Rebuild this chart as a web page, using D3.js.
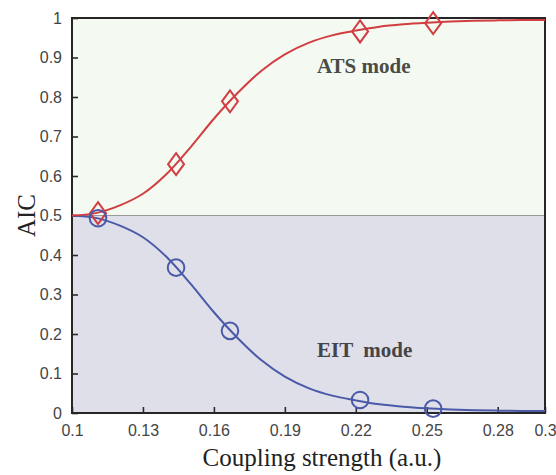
<!DOCTYPE html>
<html>
<head>
<meta charset="utf-8">
<script src="https://cdn.jsdelivr.net/npm/d3@7"></script>
<style>
  body { margin: 0; background: #fff; }
  svg { display: block; }
</style>
</head>
<body>
<div id="chart"></div>
<script>
// fitted curves
const curveX   = [0.10, 0.11, 0.12, 0.13, 0.14, 0.15, 0.16, 0.17, 0.18, 0.19, 0.20,
                  0.21, 0.22, 0.23, 0.24, 0.25, 0.26, 0.27, 0.28, 0.29, 0.30];
const atsCurve = [0.500, 0.506, 0.525, 0.555, 0.605, 0.672, 0.745, 0.810, 0.866, 0.908, 0.937,
                  0.956, 0.968, 0.978, 0.984, 0.988, 0.991, 0.993, 0.994, 0.995, 0.995];
const eitCurve = [0.500, 0.494, 0.475, 0.445, 0.395, 0.328, 0.255, 0.190, 0.134, 0.092, 0.063,
                  0.044, 0.032, 0.022, 0.016, 0.012, 0.009, 0.007, 0.006, 0.005, 0.005];

// measured points
const pointX    = [0.111, 0.144, 0.1668, 0.2218, 0.2527];
const atsPoints = [0.506, 0.630, 0.789, 0.966, 0.987];
const eitPoints = [0.493, 0.368, 0.208, 0.033, 0.011];

const xTicks = [0.1, 0.13, 0.16, 0.19, 0.22, 0.25, 0.28, 0.3];
const yTicks = [0, 0.1, 0.2, 0.3, 0.4, 0.5, 0.6, 0.7, 0.8, 0.9, 1];

const width = 556, height = 475;
const margin = {top: 18, right: 11, bottom: 62, left: 72};

const red = "#d13e42", blue = "#4a5aa8";

const x = d3.scaleLinear().domain([0.1, 0.3]).range([margin.left, width - margin.right]);
const y = d3.scaleLinear().domain([0, 1]).range([height - margin.bottom, margin.top]);

const svg = d3.select("#chart").append("svg")
    .attr("width", width)
    .attr("height", height);

// shaded regions
svg.append("rect")
    .attr("x", x(0.1)).attr("y", y(1))
    .attr("width", x(0.3) - x(0.1)).attr("height", y(0.5) - y(1))
    .attr("fill", "#f4f9f2");
svg.append("rect")
    .attr("x", x(0.1)).attr("y", y(0.5))
    .attr("width", x(0.3) - x(0.1)).attr("height", y(0) - y(0.5))
    .attr("fill", "#dfdfe9");
svg.append("line")
    .attr("x1", x(0.1)).attr("x2", x(0.3))
    .attr("y1", y(0.5)).attr("y2", y(0.5))
    .attr("stroke", "#9a9a9a").attr("stroke-width", 1.2);

// mode labels
svg.append("text")
    .attr("x", x(0.2036)).attr("y", y(0.86))
    .attr("font-family", "'Liberation Serif', 'Times New Roman', serif")
    .attr("font-weight", "bold")
    .attr("font-size", 21)
    .attr("fill", "#4a4c47")
    .text("ATS mode");
svg.append("text")
    .attr("x", x(0.2036)).attr("y", y(0.142))
    .attr("font-family", "'Liberation Serif', 'Times New Roman', serif")
    .attr("font-weight", "bold")
    .attr("font-size", 21)
    .attr("fill", "#454448")
    .style("white-space", "pre")
    .text("EIT  mode");

// axes
const xAxis = d3.axisBottom(x).tickValues(xTicks).tickSize(-6).tickPadding(12)
    .tickFormat(d => String(d));
const yAxis = d3.axisLeft(y).tickValues(yTicks).tickSize(-6).tickPadding(10)
    .tickFormat(d => String(d));

const gx = svg.append("g")
    .attr("transform", `translate(0,${height - margin.bottom})`)
    .call(xAxis);
const gy = svg.append("g")
    .attr("transform", `translate(${margin.left},0)`)
    .call(yAxis);

[gx, gy].forEach(g => {
  g.select(".domain").remove();
  g.selectAll(".tick line").attr("stroke", "#2a2a2a").attr("stroke-width", 1.6);
  g.selectAll(".tick text")
      .attr("fill", "#444")
      .attr("font-family", "'Liberation Sans', Arial, Helvetica, sans-serif")
      .attr("font-size", 16);
});

// frame
svg.append("rect")
    .attr("x", x(0.1)).attr("y", y(1))
    .attr("width", x(0.3) - x(0.1)).attr("height", y(0) - y(1))
    .attr("fill", "none")
    .attr("stroke", "#262626")
    .attr("stroke-width", 2);

// curves
const line = d3.line()
    .x((d, i) => x(curveX[i]))
    .y(d => y(d))
    .curve(d3.curveCatmullRom.alpha(0.5));

svg.append("path")
    .datum(eitCurve)
    .attr("d", line)
    .attr("fill", "none")
    .attr("stroke", blue)
    .attr("stroke-width", 2);

svg.append("path")
    .datum(atsCurve)
    .attr("d", line)
    .attr("fill", "none")
    .attr("stroke", red)
    .attr("stroke-width", 2);

// markers
svg.append("g").selectAll("path")
    .data(atsPoints)
    .enter()
    .append("path")
    .attr("transform", (d, i) => `translate(${x(pointX[i])},${y(d)})`)
    .attr("d", "M0,-11L8,0L0,11L-8,0Z")
    .attr("fill", "none")
    .attr("stroke", red)
    .attr("stroke-width", 2);

svg.append("g").selectAll("circle")
    .data(eitPoints)
    .enter()
    .append("circle")
    .attr("cx", (d, i) => x(pointX[i]))
    .attr("cy", d => y(d))
    .attr("r", 8.3)
    .attr("fill", "none")
    .attr("stroke", blue)
    .attr("stroke-width", 2);

// axis titles
svg.append("text")
    .attr("x", 322)
    .attr("y", 466)
    .attr("text-anchor", "middle")
    .attr("font-family", "'Liberation Serif', 'Times New Roman', serif")
    .attr("font-size", 25)
    .attr("fill", "#222")
    .text("Coupling strength (a.u.)");

svg.append("text")
    .attr("transform", `translate(35,${y(0.5)}) rotate(-90)`)
    .attr("text-anchor", "middle")
    .attr("font-family", "'Liberation Serif', 'Times New Roman', serif")
    .attr("font-size", 25)
    .attr("fill", "#222")
    .text("AIC");
</script>
</body>
</html>
